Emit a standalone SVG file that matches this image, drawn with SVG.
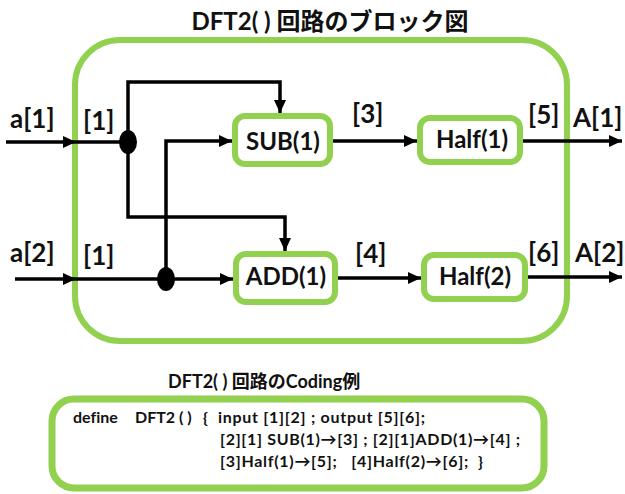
<svg xmlns="http://www.w3.org/2000/svg" width="625" height="494" viewBox="0 0 625 494">
<style>
text{font-family:Lato,"Noto Sans CJK JP",sans-serif;font-weight:bold;fill:#111;font-variant-ligatures:none}
.g{fill:#fff;stroke:#92D050}
.c{fill:none;stroke:#000;stroke-width:3.5}
.lbl{font-size:26px}
.nt{font-size:24px;text-anchor:middle}
.code{font-size:16px;white-space:pre}
</style>
<defs>
<marker id="ah" markerUnits="userSpaceOnUse" markerWidth="14" markerHeight="13" refX="13" refY="6" orient="auto">
<path d="M0,0 L13,6 L0,12 z" fill="#000"/>
</marker>
</defs>
<text x="330" y="30" style="font-size:24px" text-anchor="middle">DFT2( ) 回路のブロック図</text>
<g id="frame"><rect x="75" y="40" width="492" height="301" rx="45" stroke-width="6" fill="none" stroke="#92D050"/></g>
<g id="connectors">
<path class="c" d="M6 142 H76" marker-end="url(#ah)"/>
<path class="c" d="M76 142 H128"/>
<path class="c" d="M128 142 V82 H280 V113" marker-end="url(#ah)"/>
<path class="c" d="M128 142 V217 H285 V251" marker-end="url(#ah)"/>
<path class="c" d="M15 279 H76" marker-end="url(#ah)"/>
<path class="c" d="M76 279 H166"/>
<path class="c" d="M166 279 H233" marker-end="url(#ah)"/>
<path class="c" d="M166 279 V141 H232" marker-end="url(#ah)"/>
<path class="c" d="M333 141 H417" marker-end="url(#ah)"/>
<path class="c" d="M338 278 H421" marker-end="url(#ah)"/>
<path class="c" d="M523 141 H622" marker-end="url(#ah)"/>
<path class="c" d="M528 277 H622" marker-end="url(#ah)"/>
<ellipse cx="128" cy="142" rx="9" ry="12" fill="#000"/>
<ellipse cx="166" cy="279" rx="9" ry="12" fill="#000"/>
</g>
<g id="sub1"><rect class="g" x="235" y="116" width="95" height="48" rx="10" stroke-width="6"/><text class="nt" x="283" y="150">SUB(1)</text></g>
<g id="half1"><rect class="g" x="420" y="118" width="100" height="44" rx="10" stroke-width="6"/><text class="nt" x="472" y="148">Half(1)</text></g>
<g id="add1"><rect class="g" x="236" y="254" width="99" height="48" rx="10" stroke-width="6"/><text class="nt" x="286" y="285">ADD(1)</text></g>
<g id="half2"><rect class="g" x="424" y="255" width="101" height="44" rx="10" stroke-width="6"/><text class="nt" x="475" y="285">Half(2)</text></g>
<g id="labels">
<text class="lbl" x="10" y="128">a[1]</text>
<text class="lbl" x="83" y="130">[1]</text>
<text class="lbl" x="10" y="262">a[2]</text>
<text class="lbl" x="83" y="265">[1]</text>
<text class="lbl" x="352" y="123">[3]</text>
<text class="lbl" x="528" y="124">[5]</text>
<text class="lbl" x="573" y="127">A[1]</text>
<text class="lbl" x="355" y="263">[4]</text>
<text class="lbl" x="528" y="262">[6]</text>
<text class="lbl" x="575" y="262">A[2]</text>
</g>
<text x="168" y="388" style="font-size:18px">DFT2( ) 回路のCoding例</text>
<g id="code">
<rect class="g" x="52" y="399" width="492" height="89" rx="22" stroke-width="7"/>
<text class="code" y="423"><tspan x="73">define</tspan><tspan x="135">DFT2 ( )</tspan><tspan x="203">{</tspan><tspan x="218" textLength="207" lengthAdjust="spacing">input [1][2] ; output [5][6];</tspan></text>
<text class="code" x="220" y="445" textLength="300" lengthAdjust="spacing">[2][1] SUB(1)→[3] ; [2][1]ADD(1)→[4] ;</text>
<text class="code" x="220" y="467" textLength="263" lengthAdjust="spacing">[3]Half(1)→[5];   [4]Half(2)→[6];  }</text>
</g>
</svg>
